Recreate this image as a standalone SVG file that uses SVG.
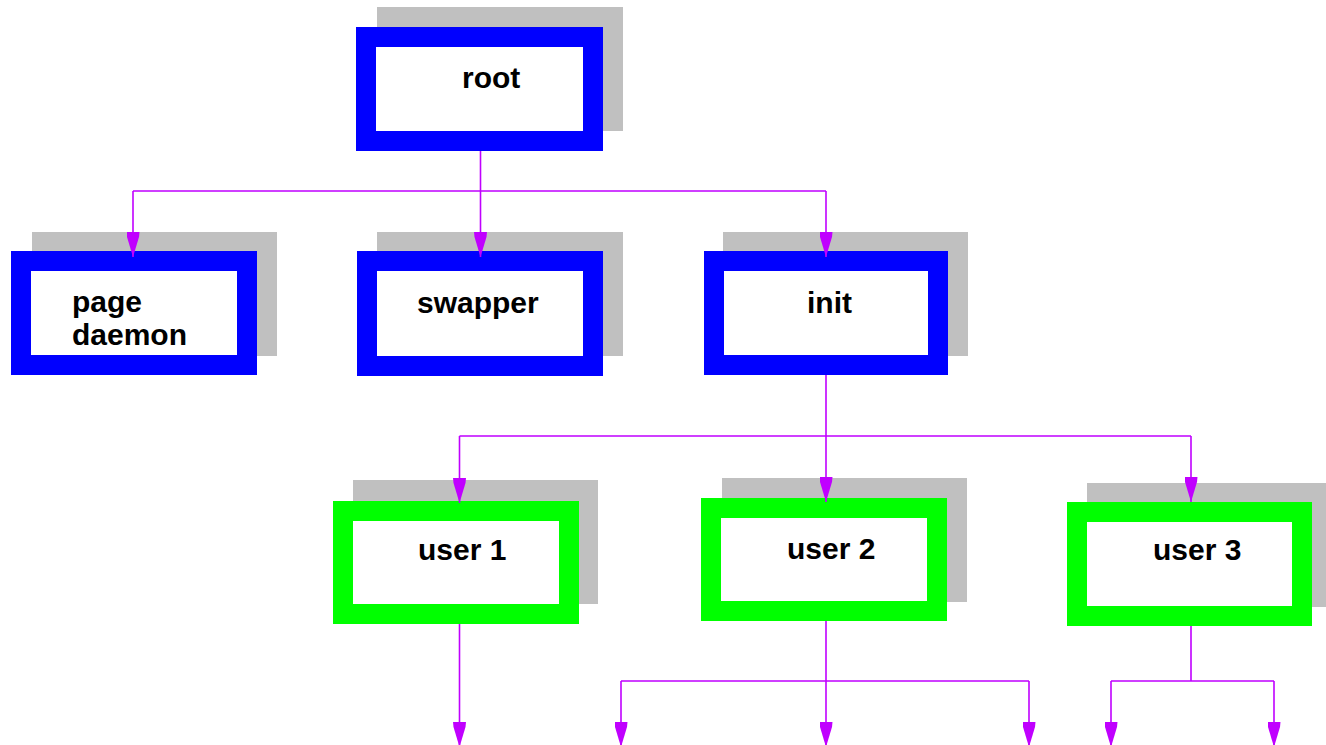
<svg xmlns="http://www.w3.org/2000/svg" width="1326" height="745" viewBox="0 0 1326 745">
<style>
.shadow{fill:#c0c0c0}
.blue{fill:#ffffff;stroke:#0000ff;stroke-width:20}
.green{fill:#ffffff;stroke:#00ff00;stroke-width:20}
.lbl{font-family:"Liberation Sans",Arial,Helvetica,sans-serif;font-weight:bold;font-size:30px;fill:#000000}
.conn{fill:none;stroke:#c000ff;stroke-width:1.6}
</style>
<defs>
<marker id="arr" viewBox="0 0 25 13" refX="25" refY="6.5" markerWidth="25" markerHeight="13" markerUnits="userSpaceOnUse" orient="auto">
<path d="M0,0 L5,0.5 L25,6.5 L5,12.5 L0,13 Z" fill="#c000ff"/>
</marker>
</defs>
<rect width="1326" height="745" fill="#ffffff"/>
<g id="node-root">
<rect class="shadow" x="377" y="7" width="246" height="124"/>
<rect class="blue" x="366" y="37" width="227" height="104"/>
<text class="lbl" x="462" y="88">root</text>
</g>
<g id="node-pagedaemon">
<rect class="shadow" x="32" y="232" width="245" height="124"/>
<rect class="blue" x="21" y="261" width="226" height="104"/>
<text class="lbl" x="72" y="312">page</text>
<text class="lbl" x="72" y="345">daemon</text>
</g>
<g id="node-swapper">
<rect class="shadow" x="377" y="232" width="246" height="124"/>
<rect class="blue" x="367" y="261" width="226" height="105"/>
<text class="lbl" x="417" y="313">swapper</text>
</g>
<g id="node-init">
<rect class="shadow" x="723" y="232" width="245" height="124"/>
<rect class="blue" x="714" y="261" width="224" height="104"/>
<text class="lbl" x="807" y="313">init</text>
</g>
<g id="node-user1">
<rect class="shadow" x="353" y="480" width="245" height="124"/>
<rect class="green" x="343" y="511" width="226" height="103"/>
<text class="lbl" x="418" y="560">user 1</text>
</g>
<g id="node-user2">
<rect class="shadow" x="722" y="478" width="245" height="124"/>
<rect class="green" x="711" y="508" width="226" height="103"/>
<text class="lbl" x="787" y="559">user 2</text>
</g>
<g id="node-user3">
<rect class="shadow" x="1087" y="483" width="245" height="124"/>
<rect class="green" x="1077" y="512" width="225" height="104"/>
<text class="lbl" x="1153" y="560">user 3</text>
</g>
<g id="connectors">
<path class="conn" d="M480.5,151 V191 M133,191 H826"/>
<path class="conn" d="M133,191 V257" marker-end="url(#arr)"/>
<path class="conn" d="M480.5,191 V257" marker-end="url(#arr)"/>
<path class="conn" d="M826,191 V257" marker-end="url(#arr)"/>
<path class="conn" d="M826,375 V436 M459.5,436 H1191"/>
<path class="conn" d="M459.5,436 V503" marker-end="url(#arr)"/>
<path class="conn" d="M826,436 V502" marker-end="url(#arr)"/>
<path class="conn" d="M1191,436 V502" marker-end="url(#arr)"/>
<path class="conn" d="M459.5,624 V747" marker-end="url(#arr)"/>
<path class="conn" d="M826,621 V681 M621,681 H1029"/>
<path class="conn" d="M621,681 V747" marker-end="url(#arr)"/>
<path class="conn" d="M826,681 V747" marker-end="url(#arr)"/>
<path class="conn" d="M1029,681 V747" marker-end="url(#arr)"/>
<path class="conn" d="M1191,626 V681 M1111,681 H1274"/>
<path class="conn" d="M1111,681 V747" marker-end="url(#arr)"/>
<path class="conn" d="M1274,681 V747" marker-end="url(#arr)"/>
</g>
</svg>
